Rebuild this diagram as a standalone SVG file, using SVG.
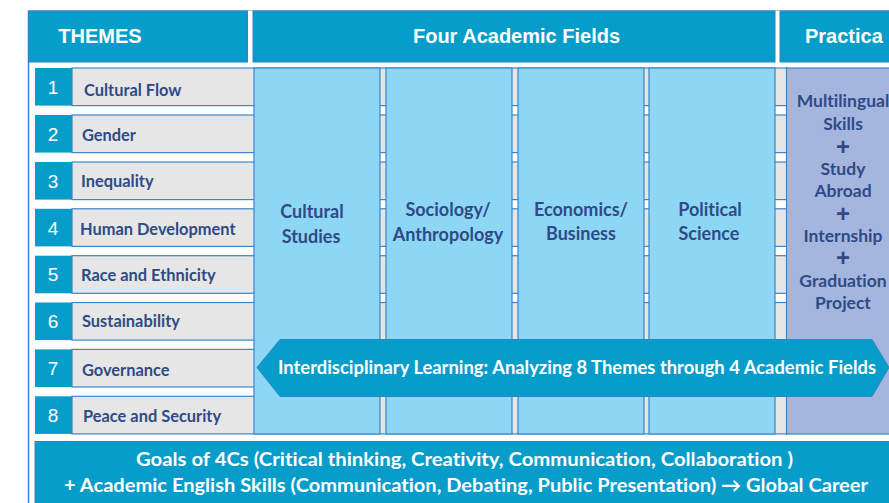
<svg xmlns="http://www.w3.org/2000/svg" width="889" height="503" viewBox="0 0 889 503">
<style>
text{font-variant-ligatures:none}
.hdr{fill:#079dca;stroke:#2f84c4;stroke-width:1}
.hdrt{font-family:"Liberation Sans",Arial,sans-serif;font-weight:bold;font-size:20px;fill:#fff}
.num{fill:#079dca}
.numt{font-family:"Liberation Sans",Arial,sans-serif;font-size:19px;fill:#fff;text-anchor:middle}
.bar{fill:#e6e6e6;stroke:#3a86c8;stroke-width:1.2}
.tt{font-family:"Source Sans Pro",Lato,"Noto Sans",sans-serif;font-weight:bold;font-size:16.4px;fill:#2f4a87}
.col{fill:#8dd7f5;stroke:#3a86c8;stroke-width:1.2}
.ct{font-family:"Source Sans Pro",Lato,"Noto Sans",sans-serif;font-weight:bold;font-size:18px;fill:#2f4a87;text-anchor:middle}
.pr{fill:#a4b6de;stroke:#3a86c8;stroke-width:1.2}
.pt{font-family:"Source Sans Pro",Lato,"Noto Sans",sans-serif;font-weight:bold;font-size:17.5px;fill:#2f4a87;text-anchor:middle}
.plus{font-family:"Liberation Sans",Arial,sans-serif;font-weight:bold;font-size:24px;fill:#2f4a87;text-anchor:middle}
.wt{font-family:"Source Sans Pro",Lato,"Noto Sans",sans-serif;font-weight:bold;fill:#fff}
</style>
<rect width="889" height="503" fill="#fff"/>
<g id="frame">
<line x1="28.5" y1="10" x2="28.5" y2="503" stroke="#3a86c8" stroke-width="1.5"/>
<line x1="28" y1="10.5" x2="889" y2="10.5" stroke="#9cc4e4" stroke-width="1"/>
</g>
<g id="header-themes"><rect class="hdr" x="28.5" y="11" width="219" height="51"/><text class="hdrt" x="100" y="43" text-anchor="middle">THEMES</text></g>
<g id="header-fields"><rect class="hdr" x="253" y="11" width="522" height="51"/><text class="hdrt" x="516.5" y="43" text-anchor="middle">Four Academic Fields</text></g>
<g id="header-practical"><rect class="hdr" x="780" y="11" width="115" height="51"/><text class="hdrt" x="805" y="43">Practica</text></g>

<g id="theme-1"><rect class="bar" x="72" y="68" width="716" height="37.6"/><rect class="num" x="35" y="68" width="37" height="37.6"/><text class="numt" x="53" y="94">1</text><text class="tt" x="84" y="96">Cultural Flow</text></g>
<g id="theme-2"><rect class="bar" x="72" y="115" width="716" height="37.6"/><rect class="num" x="35" y="115" width="37" height="37.6"/><text class="numt" x="53" y="141">2</text><text class="tt" x="82" y="141">Gender</text></g>
<g id="theme-3"><rect class="bar" x="72" y="162" width="716" height="37.6"/><rect class="num" x="35" y="162" width="37" height="37.6"/><text class="numt" x="53" y="188">3</text><text class="tt" x="81" y="187">Inequality</text></g>
<g id="theme-4"><rect class="bar" x="72" y="208.8" width="716" height="37.6"/><rect class="num" x="35" y="208.8" width="37" height="37.6"/><text class="numt" x="53" y="235">4</text><text class="tt" x="80" y="235">Human Development</text></g>
<g id="theme-5"><rect class="bar" x="72" y="255.7" width="716" height="37.6"/><rect class="num" x="35" y="255.7" width="37" height="37.6"/><text class="numt" x="53" y="281">5</text><text class="tt" x="81" y="281">Race and Ethnicity</text></g>
<g id="theme-6"><rect class="bar" x="72" y="302.5" width="716" height="37.6"/><rect class="num" x="35" y="302.5" width="37" height="37.6"/><text class="numt" x="53" y="328">6</text><text class="tt" x="82" y="327">Sustainability</text></g>
<g id="theme-7"><rect class="bar" x="72" y="349.4" width="716" height="37.6"/><rect class="num" x="35" y="349.4" width="37" height="37.6"/><text class="numt" x="53" y="375">7</text><text class="tt" x="82" y="376">Governance</text></g>
<g id="theme-8"><rect class="bar" x="72" y="396.3" width="716" height="37.6"/><rect class="num" x="35" y="396.3" width="37" height="37.6"/><text class="numt" x="53" y="422">8</text><text class="tt" x="83" y="422">Peace and Security</text></g>

<g id="field-cultural"><rect class="col" x="254" y="68" width="126" height="366"/><text class="ct" x="312" y="218">Cultural</text><text class="ct" x="311" y="243">Studies</text></g>
<g id="field-sociology"><rect class="col" x="386" y="68" width="126" height="366"/><text class="ct" x="448" y="216">Sociology/</text><text class="ct" x="448" y="241">Anthropology</text></g>
<g id="field-economics"><rect class="col" x="518" y="68" width="126" height="366"/><text class="ct" x="581" y="216">Economics/</text><text class="ct" x="581" y="240">Business</text></g>
<g id="field-political"><rect class="col" x="649" y="68" width="126" height="366"/><text class="ct" x="710" y="216">Political</text><text class="ct" x="709" y="240">Science</text></g>
<g id="practical"><rect class="pr" x="786.5" y="68" width="110" height="366"/>
<text class="pt" x="843" y="107">Multilingual</text>
<text class="pt" x="843" y="130">Skills</text>
<text class="plus" x="843" y="155">+</text>
<text class="pt" x="843" y="175">Study</text>
<text class="pt" x="843" y="197">Abroad</text>
<text class="plus" x="843" y="222">+</text>
<text class="pt" x="843" y="242">Internship</text>
<text class="plus" x="843" y="266">+</text>
<text class="pt" x="843" y="287">Graduation</text>
<text class="pt" x="843" y="309">Project</text>
</g>
<g id="interdisciplinary"><polygon points="257,367.5 280,339.5 872,339.5 889,367.5 872,396.5 280,396.5" fill="#079dca" stroke="#2f84c4" stroke-width="1"/><text class="wt" x="278" y="374" font-size="18" textLength="598" lengthAdjust="spacingAndGlyphs">Interdisciplinary Learning: Analyzing 8 Themes through 4 Academic Fields</text></g>
<g id="goals"><rect x="35" y="441.5" width="860" height="62" fill="#079dca" stroke="#2f84c4" stroke-width="1"/>
<text class="wt" x="136" y="466" font-size="19.5" textLength="657" lengthAdjust="spacingAndGlyphs">Goals of 4Cs (Critical thinking, Creativity, Communication, Collaboration )</text>
<text class="wt" x="64" y="492" font-size="19.5" textLength="804" lengthAdjust="spacingAndGlyphs">+ Academic English Skills (Communication, Debating, Public Presentation) → Global Career</text>
</g>
</svg>
